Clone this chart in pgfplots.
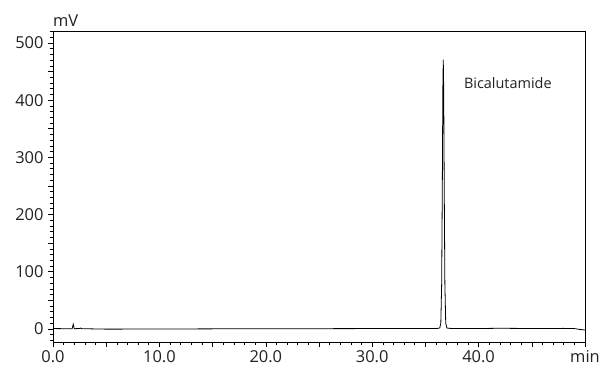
\documentclass[border=0pt]{standalone}
\usepackage{pgfplots}
\pgfplotsset{compat=1.18}
\usepackage{fontspec}
\setmainfont{Open Sans}
\definecolor{txt}{HTML}{222222}
\begin{document}
\begin{tikzpicture}[x=1bp,y=1bp]
\useasboundingbox (0,0) rectangle (604bp,372bp);
\begin{axis}[
  at={(53bp,30bp)}, anchor=south west,
  scale only axis, width=532bp, height=311bp,
  xmin=0, xmax=50, ymin=-23, ymax=521,
  xtick={0,5,...,50},
  xticklabels={0.0,,10.0,,20.0,,30.0,,40.0,,min},
  ytick={0,50,...,500},
  yticklabels={0,,100,,200,,300,,400,,500},
  minor xtick={0,1,...,50},
  minor ytick={-20,-10,...,520},
  tick align=outside,
  xtick pos=bottom, ytick pos=left,
  major tick length=5bp, minor tick length=3bp,
  tick style={black, line width=0.6pt},
  axis line style={black, line width=0.7pt},
  ticklabel style={font=\fontsize{16.5}{18}\selectfont, text=txt},
  yticklabel style={xshift=-1bp},
  /pgf/number format/assume math mode=true,
  clip=false,
]
\addplot[black, line width=0.8pt] coordinates {
(0,0.5) (1,0.3) (1.8,0.3) (1.85,4) (1.9,8) (1.95,4) (2.0,0.3) (2.5,0.5) (2.6,1.5) (2.7,0.3) (5,-0.5) (10,-0.3) (15,0) (20,0.2) (25,0.3) (30,0.5) (35,0.6)
(36.15,0.8) (36.35,1.5) (36.45,10) (36.53,80) (36.59,250) (36.64,420) (36.68,471) (36.72,420) (36.77,250) (36.83,80) (36.91,10) (37.02,1.5) (37.3,0.8)
(40,0.6) (42,1.0) (45,0.6) (48,0.8) (49,0.5) (49.5,-1) (50,-2)
};
\node[anchor=west, text=txt, font=\fontsize{14.5}{16}\selectfont] at (axis cs:38.3,430) {Bicalutamide};
\node[anchor=south west, text=txt, font=\fontsize{16.5}{18}\selectfont, inner sep=0pt] at (axis cs:0,528) {mV};
\end{axis}
\end{tikzpicture}
\end{document}
